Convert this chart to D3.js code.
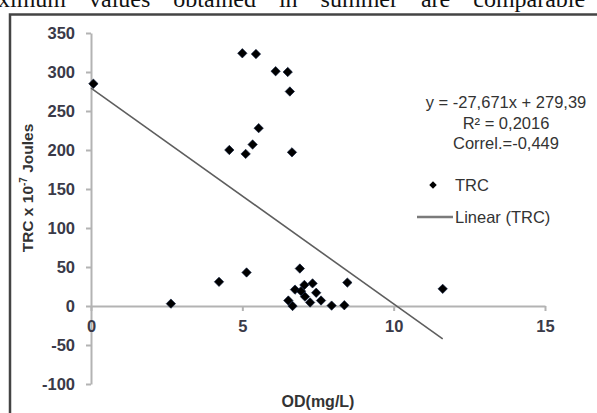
<!DOCTYPE html>
<html>
<head>
<meta charset="utf-8">
<script src="https://cdn.jsdelivr.net/npm/d3@7"></script>
<style>
  html, body { margin: 0; padding: 0; background: #fff; overflow: hidden; }
  svg { display: block; }
</style>
</head>
<body>
<script>
// values
odValues  = [0.08, 2.64, 4.23, 4.57, 5.0, 5.11, 5.14, 5.34, 5.45, 5.54, 6.10, 6.50, 6.57, 6.64,
             6.52, 6.66, 6.74, 6.90, 6.94, 7.05, 7.07, 7.24, 7.32, 7.44, 7.60, 7.95, 8.37, 8.47, 11.62]
trcValues = [285, 3, 31, 200, 324, 195, 43, 207, 323, 228, 301, 300, 275, 197,
             7, 0, 21, 48, 19, 27, 12, 4.5, 29, 17, 7, 0.5, 1, 30, 22]
xTicks = [0, 5, 10, 15]
yTicks = [-100, -50, 0, 50, 100, 150, 200, 250, 300, 350]
trend = {slope: -27.671, intercept: 279.39}
legendLines = ["y = -27,671x + 279,39", "R\u00b2 = 0,2016", "Correl.=-0,449"]

data = odValues.map((d, i) => ({od: d, trc: trcValues[i]}))

width = 597
height = 413
font = "'Liberation Sans', Arial, sans-serif"

x = d3.scaleLinear().domain([0, 15]).range([91, 545])
y = d3.scaleLinear().domain([-100, 350]).range([384, 33])

var svg = d3.select("body").append("svg")
	.attr("width", width)
	.attr("height", height)
	.attr("viewBox", [0, 0, width, height])

// bit of the paper's text above the figure, cut off at the top
svg.append("text")
	.attr("x", -34)
	.attr("y", 7)
	.attr("font-family", "'Liberation Serif', 'Times New Roman', serif")
	.attr("font-size", 24)
	.attr("word-spacing", 17)
	.attr("fill", "#111")
	.text("Maximum values obtained in summer are comparable to")

// frame
svg.append("rect")
	.attr("x", 10).attr("y", 14.5)
	.attr("width", 620).attr("height", 420)
	.attr("fill", "none")
	.attr("stroke", "#444")
	.attr("stroke-width", 2.5)

// axes (plain hyphen for negatives, as in the original)
var gy = svg.append("g")
	.attr("transform", "translate(" + x(0) + ",0)")
	.call(d3.axisLeft(y).tickValues(yTicks).tickFormat(d => String(d))
		.tickSize(5).tickPadding(11).tickSizeOuter(0))
var gx = svg.append("g")
	.attr("transform", "translate(0," + y(0) + ")")
	.call(d3.axisBottom(x).tickValues(xTicks).tickFormat(d => String(d))
		.tickSize(5).tickPadding(9).tickSizeOuter(0))

svg.selectAll(".domain, .tick line")
	.attr("stroke", "#b3b3b3")
	.attr("stroke-width", 2)
svg.selectAll(".tick text")
	.attr("font-family", font)
	.attr("font-size", 16.5)
	.attr("font-weight", "bold")
	.attr("fill", "#3a3a48")

// axis titles
svg.append("text")
	.attr("x", x(7.5))
	.attr("y", 407)
	.attr("text-anchor", "middle")
	.attr("font-family", font)
	.attr("font-size", 16)
	.attr("font-weight", "bold")
	.attr("fill", "#333")
	.text("OD(mg/L)")

var yt = svg.append("text")
	.attr("transform", "translate(33,188) rotate(-90)")
	.attr("text-anchor", "middle")
	.attr("font-family", font)
	.attr("font-size", 15.5)
	.attr("font-weight", "bold")
	.attr("fill", "#333")
yt.append("tspan").text("TRC x 10")
yt.append("tspan").attr("font-size", 10).attr("dy", -6).text("-7")
yt.append("tspan").attr("dy", 6).text(" Joules")

// trend line
xMax = d3.max(odValues)
svg.append("line")
	.attr("x1", x(0)).attr("y1", y(trend.intercept))
	.attr("x2", x(xMax)).attr("y2", y(trend.slope * xMax + trend.intercept))
	.attr("stroke", "#5e5e5e")
	.attr("stroke-width", 1.6)

// points
diamond = d3.symbol().type(d3.symbolSquare).size(44)
svg.append("g")
	.selectAll("path")
	.data(data)
	.join("path")
	.attr("d", diamond)
	.attr("transform", d => "translate(" + x(d.od) + "," + y(d.trc) + ") rotate(45)")
	.attr("fill", "#000")
	.attr("stroke", "#0a1a3a")
	.attr("stroke-width", 0.6)

// equation box
svg.append("g")
	.selectAll("text")
	.data(legendLines)
	.join("text")
	.attr("x", 506)
	.attr("y", (d, i) => 102.5 + i * 20.5)
	.attr("dy", "0.35em")
	.attr("text-anchor", "middle")
	.attr("font-family", font)
	.attr("font-size", 16.5)
	.attr("fill", "#333")
	.text(d => d)

// legend
var legend = svg.append("g")
legend.append("path")
	.attr("d", d3.symbol().type(d3.symbolSquare).size(28))
	.attr("transform", "translate(433,185) rotate(45)")
	.attr("fill", "#000")
legend.append("line")
	.attr("x1", 417).attr("x2", 453)
	.attr("y1", 217).attr("y2", 217)
	.attr("stroke", "#7a7a7a")
	.attr("stroke-width", 2.5)
legend.selectAll("text")
	.data([{t: "TRC", y: 185}, {t: "Linear (TRC)", y: 217}])
	.join("text")
	.attr("x", 455)
	.attr("y", d => d.y)
	.attr("dy", "0.35em")
	.attr("font-family", font)
	.attr("font-size", 16.5)
	.attr("fill", "#333")
	.text(d => d.t)
</script>
</body>
</html>
